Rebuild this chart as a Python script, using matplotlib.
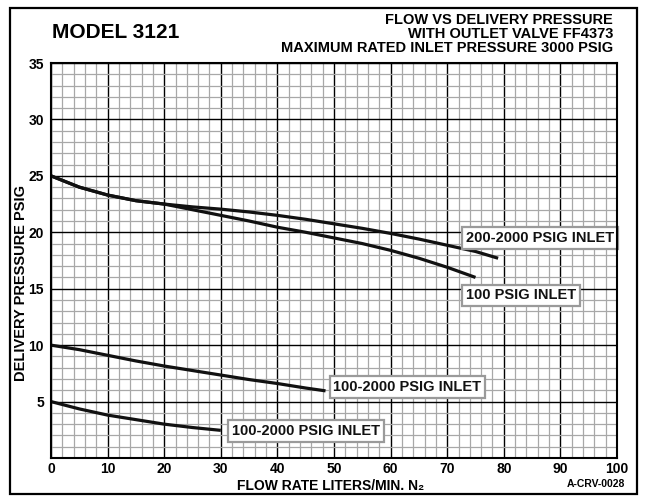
import matplotlib
matplotlib.use("Agg")
import matplotlib.pyplot as plt
from matplotlib.patches import Rectangle
import numpy as np

plt.rcParams['font.family'] = ['Liberation Sans', 'DejaVu Sans']
plt.rcParams['font.weight'] = 'bold'

# ---- data ----
x_200 = [0, 5, 10, 15, 20, 25, 30, 35, 40, 45, 50, 55, 60, 65, 70, 75, 79]
y_200 = [25, 24.0, 23.3, 22.8, 22.5, 22.25, 22.05, 21.8, 21.5, 21.15, 20.75, 20.35, 19.9, 19.4, 18.85, 18.3, 17.7]

x_100 = [0, 5, 10, 15, 20, 25, 30, 35, 40, 45, 50, 55, 60, 65, 70, 75]
y_100 = [25, 24.0, 23.3, 22.8, 22.5, 22.0, 21.5, 21.0, 20.45, 20.0, 19.5, 19.0, 18.4, 17.7, 16.9, 16.0]

x_mid = [0, 5, 10, 15, 20, 25, 30, 35, 40, 45, 48.5]
y_mid = [10, 9.6, 9.1, 8.6, 8.15, 7.75, 7.35, 6.95, 6.6, 6.2, 5.95]

x_low = [0, 5, 10, 15, 20, 25, 30]
y_low = [5, 4.35, 3.8, 3.4, 3.0, 2.7, 2.45]

labels = ["200-2000 PSIG INLET", "100 PSIG INLET", "100-2000 PSIG INLET", "100-2000 PSIG INLET"]
label_x = [73.3, 73.3, 49.9, 32.0]
label_y = [19.5, 14.4, 6.3, 2.4]

x_ticks = [0, 10, 20, 30, 40, 50, 60, 70, 80, 90, 100]
y_ticks = [5, 10, 15, 20, 25, 30, 35]

W, H = 647, 496
fig = plt.figure(figsize=(W/100, H/100), dpi=100)
ax = fig.add_axes([51/W, 1-458/H, 566/W, 395/H])

ax.set_xlim(0, 100)
ax.set_ylim(0, 35)

# grid
for xv in np.arange(0, 101, 2):
    major = (xv % 10 == 0)
    ax.axvline(xv, color='black' if major else '#a8a8a8', lw=1.0 if major else 0.9, zorder=1)
for yv in np.arange(0, 36, 1):
    major = (yv % 5 == 0)
    ax.axhline(yv, color='black' if major else '#a8a8a8', lw=1.0 if major else 0.9, zorder=1)

for xs, ys in [(x_200, y_200), (x_100, y_100), (x_mid, y_mid), (x_low, y_low)]:
    ax.plot(xs, ys, color='#111111', lw=2.3, solid_capstyle='butt', zorder=3)

for t, lx, ly in zip(labels, label_x, label_y):
    ax.text(lx, ly, t, ha='left', va='center', fontsize=10.5, fontweight='bold',
            color='#111111', zorder=5, clip_on=False,
            bbox=dict(boxstyle='square,pad=0.25', facecolor='white', edgecolor='#9a9a9a', linewidth=1.6))

ax.set_xticks(x_ticks)
ax.set_yticks(y_ticks)
ax.tick_params(length=0, labelsize=10)
ax.tick_params(axis='y', pad=5)
ax.tick_params(axis='x', pad=3.2)
for lab in ax.get_xticklabels() + ax.get_yticklabels():
    lab.set_fontweight('bold')
for sp in ax.spines.values():
    sp.set_linewidth(1.5)
    sp.set_zorder(6)

fig.text(21/W, 1-283/H, "DELIVERY PRESSURE PSIG", fontsize=10.5, fontweight='bold',
         rotation=90, ha='center', va='center')
fig.text(331/W, 1-489.5/H, "FLOW RATE LITERS/MIN. N₂", fontsize=10, fontweight='bold',
         ha='center', va='baseline')

fig.text(52/W, 1-32/H, "MODEL 3121", fontsize=15, fontweight='bold', ha='left', va='center')
fig.text(613/W, 1-20.5/H, "FLOW VS DELIVERY PRESSURE", fontsize=10.5, fontweight='bold', ha='right', va='center')
fig.text(613/W, 1-34/H, "WITH OUTLET VALVE FF4373", fontsize=10.5, fontweight='bold', ha='right', va='center')
fig.text(613/W, 1-48/H, "MAXIMUM RATED INLET PRESSURE 3000 PSIG", fontsize=10.5, fontweight='bold', ha='right', va='center')
fig.text(625/W, 1-484/H, "A-CRV-0028", fontsize=7.5, fontweight='bold', ha='right', va='center')

fig.patches.append(Rectangle((10/W, 2/H), 627/W, 486/H, transform=fig.transFigure,
                             fill=False, edgecolor='black', linewidth=1.6))

fig.savefig("out.png", dpi=100)
